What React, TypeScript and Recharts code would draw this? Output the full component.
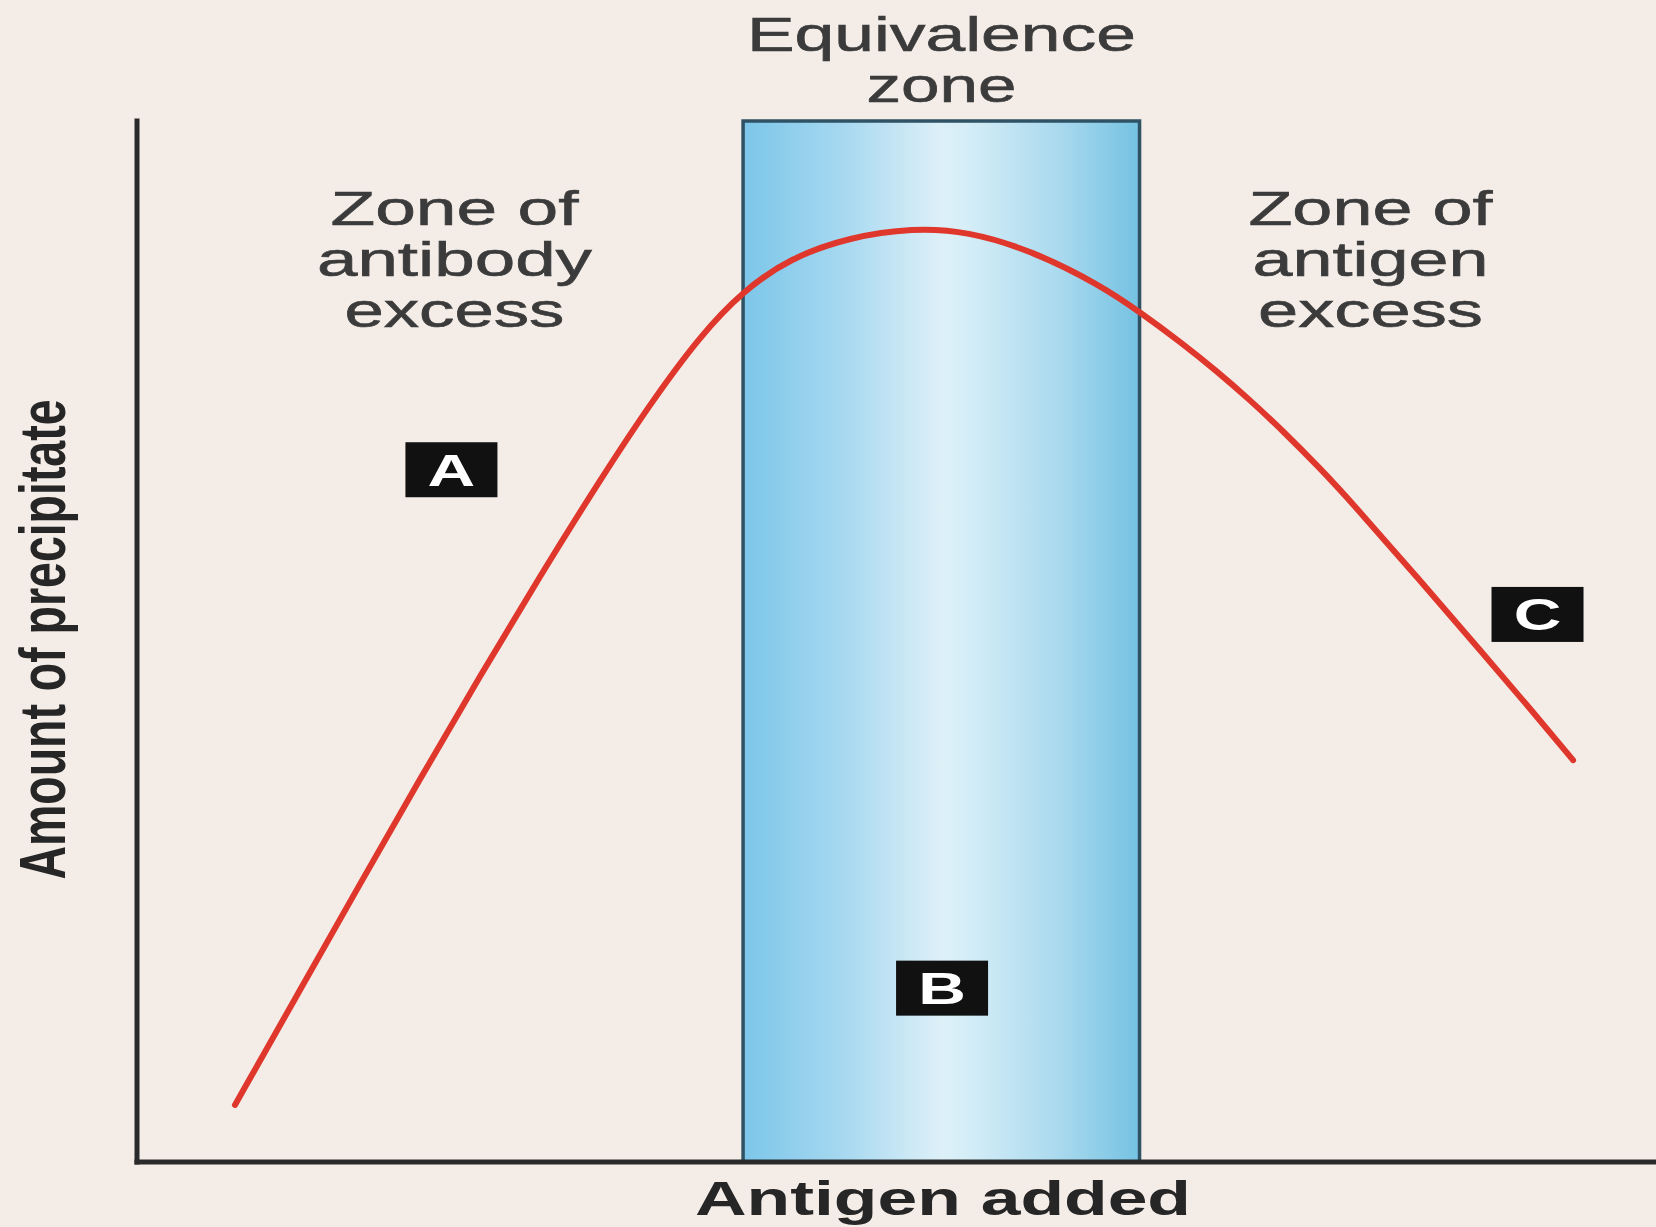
import React from "react";
import {
  ComposedChart,
  Line,
  XAxis,
  YAxis,
  ReferenceArea,
  ReferenceDot,
} from "recharts";

// antigen added (x, % of axis) vs amount of precipitate (y, % of axis)
const antigenAdded = [
  6.45, 10.73, 14.68, 18.63, 22.58, 26.53, 30.48, 33.77, 37.06, 39.89, 42.99,
  46.94, 51.09, 54.64, 58.99, 63.4, 66.03, 68.66, 71.1, 73.27, 75.44, 77.88,
  79.86, 84.27, 88.61, 91.9, 94.54,
];
const precipitate = [
  5.48, 16.52, 26.71, 36.79, 46.69, 56.29, 65.51, 72.81, 79.35, 83.67, 86.84,
  88.86, 89.72, 89.43, 87.51, 84.25, 81.65, 78.81, 75.96, 73.2, 70.23, 66.64,
  63.53, 56.21, 48.83, 43.24, 38.6,
];

const equivalenceZone = [39.9, 66.0];

const zoneLabels = [
  { x: 20.9, y: 90, lines: ["Zone of", "antibody", "excess"], widths: [248, 275, 220] },
  { x: 81.2, y: 90, lines: ["Zone of", "antigen", "excess"], widths: [244, 236, 225] },
  { x: 52.96, y: 106.7, lines: ["Equivalence", "zone"], widths: [389, 150] },
];

const markers = [
  { letter: "A", x: 20.7, y: 66.5 },
  { letter: "B", x: 53.0, y: 16.7 },
  { letter: "C", x: 92.2, y: 52.6 },
];

const xTitle = "Antigen added";
const yTitle = "Amount of precipitate";

const data = antigenAdded.map((x, i) => ({ x, y: precipitate[i] }));

const FONT = "'Liberation Sans', Arial, Helvetica, sans-serif";
const BG = "#f3ece7";

const TextBlock = (props: any) => {
  const { cx, cy, lines, widths } = props;
  if (cx == null || cy == null) return null;
  return (
    <g>
      {lines.map((t: string, i: number) => (
        <text
          key={t + i}
          x={cx}
          y={cy + i * 51}
          textAnchor="middle"
          fontFamily={FONT}
          fontSize={48}
          fill="#3b3b3b"
          stroke="#3b3b3b"
          strokeWidth={0.6}
          textLength={widths[i]}
          lengthAdjust="spacingAndGlyphs"
        >
          {t}
        </text>
      ))}
    </g>
  );
};

const Marker = (props: any) => {
  const { cx, cy, letter } = props;
  if (cx == null || cy == null) return null;
  return (
    <g>
      <rect x={cx - 46} y={cy - 27.5} width={92} height={55} fill="#111" />
      <text
        transform={`translate(${cx},${cy + 16}) scale(1.5,1)`}
        textAnchor="middle"
        fontFamily={FONT}
        fontWeight="bold"
        fontSize={44}
        fill="#fff"
      >
        {letter}
      </text>
    </g>
  );
};

const XTitle = (props: any) => {
  const { viewBox } = props;
  const x = viewBox.x + 806;
  const y = viewBox.y + 53;
  return (
    <text
      x={x}
      y={y}
      textAnchor="middle"
      fontFamily={FONT}
      fontWeight="bold"
      fontSize={48}
      fill="#262626"
      textLength={496}
      lengthAdjust="spacingAndGlyphs"
    >
      {xTitle}
    </text>
  );
};

const YTitle = (props: any) => {
  const { viewBox } = props;
  const cx = viewBox.x + 65;
  const cy = viewBox.y + viewBox.height / 2 - 2;
  return (
    <text
      transform={`translate(${cx},${cy}) scale(1.6,1) rotate(-90)`}
      x={0}
      y={0}
      textAnchor="middle"
      fontFamily={FONT}
      fontWeight="bold"
      fontSize={41}
      fill="#262626"
      textLength={480}
      lengthAdjust="spacingAndGlyphs"
    >
      {yTitle}
    </text>
  );
};

export default function App() {
  return (
    <div
      style={{
        position: "absolute",
        left: 0,
        top: 0,
        width: 1656,
        height: 1227,
        background: BG,
      }}
    >
      <ComposedChart
        width={1656}
        height={1227}
        data={data}
        margin={{ top: 121, right: 0, bottom: 0, left: 0 }}
      >
        <defs>
          <linearGradient id="eqGrad" x1="0" y1="0" x2="1" y2="0">
            <stop offset="0%" stopColor="#7cc6e9" />
            <stop offset="25%" stopColor="#a6d8f0" />
            <stop offset="50%" stopColor="#ddf0f8" />
            <stop offset="56%" stopColor="#d6eef7" />
            <stop offset="80%" stopColor="#a9d9ee" />
            <stop offset="100%" stopColor="#74c2e2" />
          </linearGradient>
        </defs>
        <XAxis
          type="number"
          dataKey="x"
          domain={[0, 100]}
          allowDataOverflow
          tick={false}
          tickLine={false}
          height={65}
          axisLine={{ stroke: "#2a2a2a", strokeWidth: 5, strokeLinecap: "square" }}
          label={<XTitle />}
        />
        <YAxis
          type="number"
          domain={[0, 100]}
          allowDataOverflow
          tick={false}
          tickLine={false}
          width={137}
          axisLine={{ stroke: "#2a2a2a", strokeWidth: 5, strokeLinecap: "square" }}
          label={<YTitle />}
        />
        <ReferenceArea
          x1={equivalenceZone[0]}
          x2={equivalenceZone[1]}
          y1={0}
          y2={100}
          fill="url(#eqGrad)"
          fillOpacity={1}
          stroke="#2f5364"
          strokeWidth={3.5}
          ifOverflow="visible"
        />
        <Line
          type="basis"
          dataKey="y"
          stroke="#e0372d"
          strokeWidth={6}
          strokeLinecap="round"
          dot={false}
          activeDot={false}
          isAnimationActive={false}
        />
        {zoneLabels.map((z, i) => (
          <ReferenceDot
            key={"z" + i}
            x={z.x}
            y={z.y}
            ifOverflow="visible"
            shape={(p: any) => (
              <TextBlock cx={p.cx} cy={p.cy} lines={z.lines} widths={z.widths} />
            )}
          />
        ))}
        {markers.map((m) => (
          <ReferenceDot
            key={m.letter}
            x={m.x}
            y={m.y}
            ifOverflow="visible"
            shape={(p: any) => <Marker cx={p.cx} cy={p.cy} letter={m.letter} />}
          />
        ))}
      </ComposedChart>
    </div>
  );
}
